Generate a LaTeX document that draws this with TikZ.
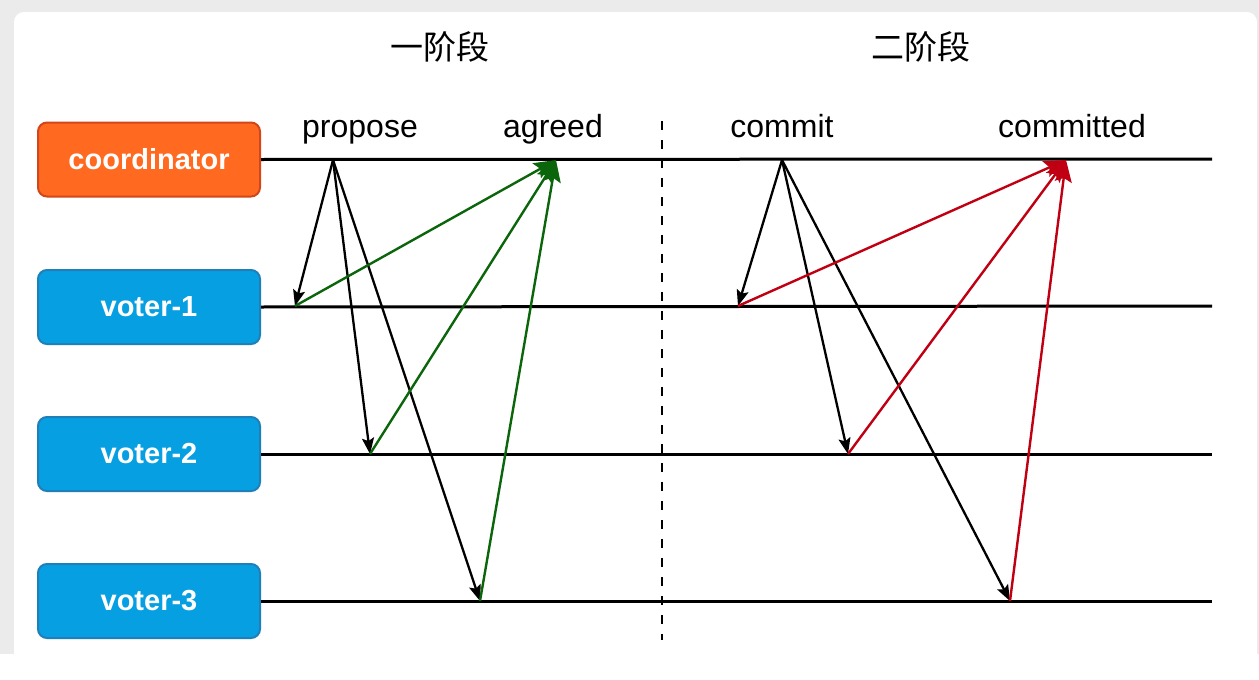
\documentclass[tikz,border=0pt]{standalone}
\usepackage{fontspec}
\setmainfont{Liberation Sans}
\newfontfamily\cjk{Noto Sans CJK SC}
\usetikzlibrary{arrows.meta}
\definecolor{bggray}{HTML}{EBEBEB}
\definecolor{orfill}{HTML}{FF6A20}
\definecolor{ordraw}{HTML}{D2461A}
\definecolor{blfill}{HTML}{06A0E2}
\definecolor{bldraw}{HTML}{1F7FB8}
\definecolor{agreen}{HTML}{0B650B}
\definecolor{ared}{HTML}{C00012}
\tikzset{
  actor/.style={rounded corners=9pt, line width=2pt, minimum width=222pt, minimum height=74pt,
    text=white, font=\fontsize{29}{34}\selectfont\bfseries, inner sep=0pt},
  coordbox/.style={actor, fill=orfill, draw=ordraw},
  voterbox/.style={actor, fill=blfill, draw=bldraw},
  timeline/.style={line width=3pt, black},
  req/.style={line width=2.3pt, black, -{Stealth[length=16pt,width=12pt,inset=3pt]}},
  ackg/.style={line width=2.4pt, agreen, -{Stealth[length=22pt,width=17pt,inset=4pt]}},
  ackr/.style={line width=2.4pt, ared, -{Stealth[length=22pt,width=17pt,inset=4pt]}},
  lbl/.style={font=\fontsize{32}{36}\selectfont, inner sep=0pt, anchor=base},
  phase/.style={font=\cjk\fontsize{33}{38}\selectfont, inner sep=0pt}
}
\begin{document}
\begin{tikzpicture}[x=1pt,y=-1pt]
\fill[bggray] (0,0) rectangle (1259,654);
\fill[white, rounded corners=10pt] (14,12) rectangle (1257,680);
\useasboundingbox (0,0) rectangle (1259,654);

\node[coordbox] (coord) at (149,159.5) {coordinator};
\node[voterbox] (v1) at (149,307) {voter-1};
\node[voterbox] (v2) at (149,454) {voter-2};
\node[voterbox] (v3) at (149,601) {voter-3};

\coordinate (e0) at (1212,159);
\coordinate (e1) at (1212,306);
\coordinate (e2) at (1212,454);
\coordinate (e3) at (1212,601);
\draw[timeline] (coord.east) -- (e0);
\draw[timeline] (v1.east) -- (e1);
\draw[timeline] (v2.east) -- (e2);
\draw[timeline] (v3.east) -- (e3);

\coordinate (dtop) at (662,121);
\coordinate (dbot) at (662,640);
\draw[line width=2.4pt, dash pattern=on 9pt off 10pt] (dtop) -- (dbot);

\node[phase] (ph1) at (440,47) {一阶段};
\node[phase] (ph2) at (921,47) {二阶段};
\node[lbl] (lp) at (360,137) {propose};
\node[lbl] (la) at (553,137) {agreed};
\node[lbl] (lc) at (782,137) {commit};
\node[lbl] (lm) at (1072,137) {committed};

\coordinate (p0) at (333,160);
\coordinate (p1) at (295,306);
\coordinate (p2) at (370,454);
\coordinate (p3) at (480,601);
\coordinate (a0) at (556,160);
\coordinate (c0) at (782,160);
\coordinate (c1) at (738,306);
\coordinate (c2) at (848,454);
\coordinate (c3) at (1010,601);
\coordinate (m0) at (1066,160);

\draw[req] (p0) -- (p1);
\draw[req] (p0) -- (p2);
\draw[req] (p0) -- (p3);
\draw[ackg] (p1) -- (a0);
\draw[ackg] (p2) -- (a0);
\draw[ackg] (p3) -- (a0);

\draw[req] (c0) -- (c1);
\draw[req] (c0) -- (c2);
\draw[req] (c0) -- (c3);
\draw[ackr] (c1) -- (m0);
\draw[ackr] (c2) -- (m0);
\draw[ackr] (c3) -- (m0);
\end{tikzpicture}
\end{document}
